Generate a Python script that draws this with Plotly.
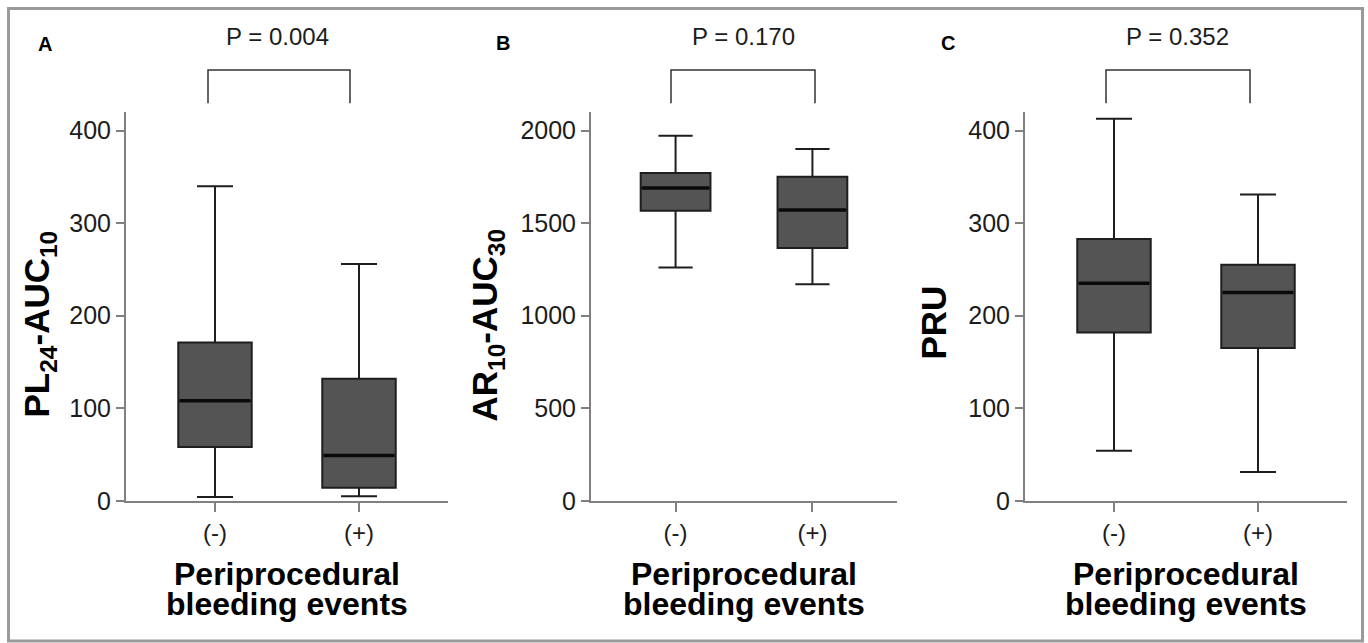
import plotly.graph_objects as go

# ---------------- data ----------------
categories = ["(-)", "(+)"]
panel_labels = ["A", "B", "C"]
p_values = ["P = 0.004", "P = 0.170", "P = 0.352"]
y_titles = ["PL<sub>24</sub>-AUC<sub>10</sub>", "AR<sub>10</sub>-AUC<sub>30</sub>", "PRU"]
x_title_lines = ["Periprocedural", "bleeding events"]

# Panel A: PL24-AUC10
a_lower = [4, 5]
a_q1 = [58, 14]
a_median = [108, 49]
a_q3 = [171, 132]
a_upper = [340, 256]

# Panel B: AR10-AUC30
b_lower = [1260, 1170]
b_q1 = [1567, 1366]
b_median = [1690, 1572]
b_q3 = [1771, 1751]
b_upper = [1973, 1901]

# Panel C: PRU
c_lower = [54, 31]
c_q1 = [182, 165]
c_median = [235, 225]
c_q3 = [283, 255]
c_upper = [413, 331]

y_ranges = [[0, 420], [0, 2100], [0, 420]]
y_tickvals = [[0, 100, 200, 300, 400], [0, 500, 1000, 1500, 2000], [0, 100, 200, 300, 400]]

panels = [
    (a_lower, a_q1, a_median, a_q3, a_upper),
    (b_lower, b_q1, b_median, b_q3, b_upper),
    (c_lower, c_q1, c_median, c_q3, c_upper),
]

# ---------------- layout geometry (pixels of the 1368x643 picture) ----------------
W, H = 1368, 643
FIG_H = 658  # figure height; positions below are given as fractions of H
FONT = "Liberation Sans, Arial, Helvetica, sans-serif"
x_dom_px = [(126, 448), (591, 897), (1025, 1347)]
y_dom_px = (500, 112)  # bottom, top
bracket_px = [(208, 350), (671, 815), (1106, 1250)]
label_px = [(45, 44), (503, 43), (948, 43)]
p_px = [277, 743, 1177]
ytitle_px = [(39, 324), (487, 325), (934, 322)]

BOX_W = 0.51
AXIS_COL = "#808080"
TXT_COL = "#1c1c1c"


def px_x(v):
    return v / W


def px_y(v):
    return 1 - v / H


fig = go.Figure()
shapes = []
annotations = []

for i, (lo, q1, med, q3, up) in enumerate(panels):
    xa = "x" if i == 0 else f"x{i + 1}"
    ya = "y" if i == 0 else f"y{i + 1}"
    fig.add_trace(go.Box(
        x=categories, q1=q1, median=med, q3=q3, lowerfence=lo, upperfence=up,
        fillcolor="#545454", line=dict(color="#1e1e1e", width=2),
        width=BOX_W, whiskerwidth=0.49, boxpoints=False, showlegend=False,
        xaxis=xa, yaxis=ya, hoverinfo="skip",
    ))
    # thicker median lines
    for j, m in enumerate(med):
        shapes.append(dict(type="line", xref=xa, yref=ya,
                           x0=j - BOX_W / 2 + 0.01, x1=j + BOX_W / 2 - 0.01,
                           y0=m, y1=m, line=dict(color="#0a0a0a", width=3.5)))

    ax_key = "xaxis" if i == 0 else f"xaxis{i + 1}"
    ay_key = "yaxis" if i == 0 else f"yaxis{i + 1}"
    fig.update_layout(**{
        ax_key: dict(
            domain=[px_x(x_dom_px[i][0]), px_x(x_dom_px[i][1])],
            anchor=ya, type="category", range=[-0.618, 1.618],
            showline=True, linecolor=AXIS_COL, linewidth=2,
            ticks="outside", ticklen=9, tickwidth=2, tickcolor=AXIS_COL,
            tickfont=dict(family=FONT, size=24, color=TXT_COL),
            showgrid=False, zeroline=False, fixedrange=True,
        ),
        ay_key: dict(
            domain=[px_y(y_dom_px[0]), px_y(y_dom_px[1])],
            anchor=xa, range=y_ranges[i], tickvals=y_tickvals[i],
            showline=True, linecolor=AXIS_COL, linewidth=2,
            ticks="outside", ticklen=8, tickwidth=2, tickcolor=AXIS_COL,
            tickfont=dict(family=FONT, size=25, color=TXT_COL),
            showgrid=False, zeroline=False, fixedrange=True,
        ),
    })

    # significance bracket
    bx0, bx1 = bracket_px[i]
    shapes.append(dict(
        type="path", xref="paper", yref="paper",
        path=f"M {px_x(bx0)} {px_y(103)} L {px_x(bx0)} {px_y(70)} "
             f"L {px_x(bx1)} {px_y(70)} L {px_x(bx1)} {px_y(103)}",
        line=dict(color="#333333", width=1.5),
    ))

    # panel letter
    lx, ly = label_px[i]
    annotations.append(dict(text=f"<b>{panel_labels[i]}</b>", xref="paper", yref="paper",
                            x=px_x(lx), y=px_y(ly), xanchor="center", yanchor="middle",
                            showarrow=False, font=dict(family=FONT, size=20, color="#000")))
    # p value
    annotations.append(dict(text=p_values[i], xref="paper", yref="paper",
                            x=px_x(p_px[i]), y=px_y(36), xanchor="center", yanchor="middle",
                            showarrow=False, font=dict(family=FONT, size=24, color=TXT_COL)))
    # y title
    tx, ty = ytitle_px[i]
    annotations.append(dict(text=f"<b>{y_titles[i]}</b>", xref="paper", yref="paper",
                            x=px_x(tx), y=px_y(ty), xanchor="center", yanchor="middle",
                            textangle=-90, showarrow=False,
                            font=dict(family=FONT, size=35, color="#000")))
    # x title (two lines)
    cx = (x_dom_px[i][0] + x_dom_px[i][1]) / 2
    for k, line in enumerate(x_title_lines):
        annotations.append(dict(text=f"<b>{line}</b>", xref="paper", yref="paper",
                                x=px_x(cx), y=px_y(573 + 30 * k), xanchor="center",
                                yanchor="middle", showarrow=False,
                                font=dict(family=FONT, size=32, color="#000")))

# outer frame
shapes.append(dict(type="rect", xref="paper", yref="paper",
                   x0=px_x(8.5), x1=px_x(1362.5), y0=px_y(640), y1=px_y(8.5),
                   line=dict(color="#9a9a9a", width=3)))

fig.update_layout(
    width=W, height=FIG_H,
    margin=dict(l=0, r=0, t=0, b=0),
    paper_bgcolor="white", plot_bgcolor="white",
    shapes=shapes, annotations=annotations,
    showlegend=False,
    font=dict(family=FONT, color=TXT_COL),
)

fig.write_html(
    "out.html",
    config={"displayModeBar": False},
    post_script=(
        "document.documentElement.style.margin='0px';"
        "document.body.style.margin='0px';"
        "document.body.style.overflow='hidden';"
    ),
)
